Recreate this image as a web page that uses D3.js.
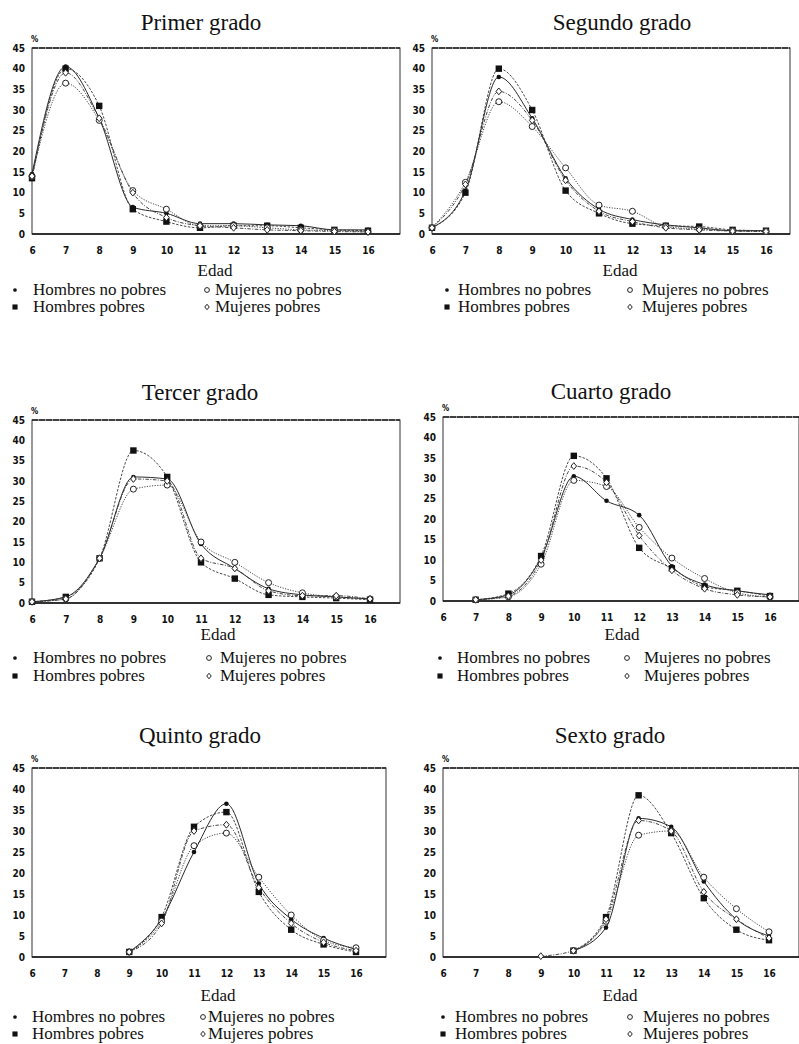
<!DOCTYPE html>
<html>
<head>
<meta charset="utf-8">
<script src="https://cdn.jsdelivr.net/npm/d3@7"></script>
<style>
  body { margin: 0; background: #fff; }
  svg { display: block; }
</style>
</head>
<body>
<div id="chart"></div>
<script>
// ages on the x axis
const ages = [6, 7, 8, 9, 10, 11, 12, 13, 14, 15, 16];
const xTicks = [6, 7, 8, 9, 10, 11, 12, 13, 14, 15, 16];
const yTicks = [0, 5, 10, 15, 20, 25, 30, 35, 40, 45];
const seriesNames = ["Hombres no pobres", "Hombres pobres", "Mujeres no pobres", "Mujeres pobres"];
const gradeNames = ["Primer grado", "Segundo grado", "Tercer grado", "Cuarto grado", "Quinto grado", "Sexto grado"];

// % per age, order: hombres no pobres, hombres pobres, mujeres no pobres, mujeres pobres
const primerGrado = [
    [14.5, 40.5, 28, 6.5, 5, 2.5, 2.5, 2.2, 2, 1, 1],
    [13.5, 40, 31, 6, 3, 1.5, 2, 2, 1.5, 1, 0.8],
    [14, 36.5, 27.5, 10.5, 6, 2, 2, 1.5, 1, 0.8, 0.5],
    [14, 39, 28, 10, 4, 2, 1.5, 1, 0.8, 0.6, 0.5]
];
const segundoGrado = [
    [1.5, 10.5, 38, 28, 13.5, 6, 3.5, 2.2, 1.5, 0.8, 0.8],
    [1.5, 10, 40, 30, 10.5, 5, 2.5, 2, 1.8, 1, 0.8],
    [1.5, 12.5, 32, 26, 16, 7, 5.5, 1.8, 1.2, 0.8, 0.6],
    [1.5, 12, 34.5, 27.5, 13, 5.5, 3, 1.5, 1, 0.7, 0.6]
];
const tercerGrado = [
    [0.3, 1.5, 11, 31, 30.5, 14.5, 8.5, 3.5, 2, 1.5, 1],
    [0.3, 1.5, 11, 37.5, 31, 10, 6, 2, 1.5, 1.2, 0.8],
    [0.3, 1, 11, 28, 29, 15, 10, 5, 2.5, 1.5, 1],
    [0.3, 1, 11, 30.5, 30, 11, 8.5, 3, 1.8, 1.8, 1]
];
const cuartoGrado = [
    [null, 0.3, 1.5, 10.5, 30.5, 24.5, 21, 8.5, 4, 2.5, 1.5],
    [null, 0.3, 1.8, 11, 35.5, 30, 13, 8, 3.5, 2.5, 1.2],
    [null, 0.3, 1, 9, 29.5, 28, 18, 10.5, 5.5, 2, 1],
    [null, 0.3, 1.2, 10, 33, 29, 16, 7.5, 3, 1.5, 1]
];
const quintoGrado = [
    [null, null, null, 1.2, 9, 25, 36.5, 17.5, 9, 4.5, 1.8],
    [null, null, null, 1.2, 9.5, 31, 34.5, 15.5, 6.5, 3, 1.2],
    [null, null, null, 1.2, 8.5, 26.5, 29.5, 19, 10, 4, 2.2],
    [null, null, null, 1.2, 8, 30, 31.5, 16.5, 8, 3.5, 1.5]
];
const sextoGrado = [
    [null, null, null, null, 1.5, 7, 33, 31, 18, 9, 5],
    [null, null, null, null, 1.5, 9.5, 38.5, 29.5, 14, 6.5, 4],
    [null, null, null, null, 1.5, 8.5, 29, 30, 19, 11.5, 6],
    [null, null, null, 0.2, 1.5, 9, 32.5, 30, 15.5, 9, 4.5]
];
const gradeData = [primerGrado, segundoGrado, tercerGrado, cuartoGrado, quintoGrado, sextoGrado];

// page layout of each panel
const layout = [
    {left: 32, x16: 368, right: 400, top: 48, bottom: 234, titleX: 201, titleY: 30, edadX: 215, edadY: 276, legY: [295, 312], mark: [15, 207], text: [33, 215]},
    {left: 432, x16: 766, right: 790, top: 48, bottom: 234, titleX: 622, titleY: 30, edadX: 620, edadY: 276, legY: [295, 312], mark: [447, 630], text: [458, 642]},
    {left: 32, x16: 370, right: 400, top: 420, bottom: 603, titleX: 200, titleY: 400, edadX: 218, edadY: 640, legY: [663, 681], mark: [15, 209], text: [33, 220]},
    {left: 443, x16: 770, right: 799, top: 417, bottom: 601, titleX: 611, titleY: 399, edadX: 622, edadY: 640, legY: [663, 681], mark: [440, 627], text: [457, 644]},
    {left: 32, x16: 356, right: 386, top: 768, bottom: 957, titleX: 200, titleY: 743, edadX: 218, edadY: 1001, legY: [1022, 1039], mark: [15, 203], text: [32, 208]},
    {left: 443, x16: 769, right: 799, top: 768, bottom: 957, titleX: 610, titleY: 743, edadX: 620, edadY: 1001, legY: [1022, 1039], mark: [443, 630], text: [455, 643]}
];

const W = 799, H = 1044;
const serif = "'Liberation Serif', 'Times New Roman', Times, 'DejaVu Serif', serif";
const narrow = "'Liberation Sans Narrow', 'DejaVu Sans Condensed', 'Arial Narrow', sans-serif";
const dashes = [null, "2.5,1.5", "1.2,1.4", "3.5,1.5,1,1.5"];

const svg = d3.select("#chart").append("svg")
    .attr("width", W)
    .attr("height", H);

function drawMarker(g, kind, x, y, s) {
    if (kind === 0) {
        g.append("circle").attr("cx", x).attr("cy", y).attr("r", 2.3 * s).attr("fill", "#111");
    } else if (kind === 1) {
        g.append("rect").attr("x", x - 3.2 * s).attr("y", y - 3.2 * s)
            .attr("width", 6.4 * s).attr("height", 6.4 * s).attr("fill", "#111");
    } else if (kind === 2) {
        g.append("circle").attr("cx", x).attr("cy", y).attr("r", 3 * s)
            .attr("fill", "#fff").attr("stroke", "#222").attr("stroke-width", 1);
    } else {
        g.append("path")
            .attr("d", `M${x},${y - 3.4 * s}L${x + 2.8 * s},${y}L${x},${y + 3.4 * s}L${x - 2.8 * s},${y}Z`)
            .attr("fill", "#fff").attr("stroke", "#222").attr("stroke-width", 1);
    }
}

gradeData.forEach((grade, gi) => {
    let L = layout[gi];
    let g = svg.append("g");

    let x = d3.scaleLinear().domain([6, 16]).range([L.left, L.x16]);
    let y = d3.scaleLinear().domain([0, 45]).range([L.bottom, L.top]);

    g.append("text")
        .attr("x", L.titleX).attr("y", L.titleY)
        .attr("text-anchor", "middle")
        .style("font-family", serif)
        .style("font-size", "23px")
        .style("fill", "#111")
        .text(gradeNames[gi]);

    g.append("text")
        .attr("x", L.left - 1).attr("y", L.top - 6)
        .style("font-family", narrow)
        .style("font-weight", "bold")
        .style("font-size", "8px")
        .text("%");

    // frame
    g.append("rect")
        .attr("x", L.left).attr("y", L.top)
        .attr("width", L.right - L.left).attr("height", L.bottom - L.top)
        .attr("fill", "none").attr("stroke", "#333").attr("stroke-width", 1);
    g.append("line")
        .attr("x1", L.left).attr("x2", L.right).attr("y1", L.top).attr("y2", L.top)
        .attr("stroke", "#222").attr("stroke-width", 1.6).attr("stroke-dasharray", "6,1");
    g.append("line")
        .attr("x1", L.left).attr("x2", L.right).attr("y1", L.bottom).attr("y2", L.bottom)
        .attr("stroke", "#111").attr("stroke-width", 1.6);

    // axes (labels only)
    let xAxis = g.append("g")
        .attr("transform", `translate(0,${L.bottom})`)
        .call(d3.axisBottom(x).tickValues(xTicks).tickSize(0).tickPadding(13).tickFormat(d3.format("d")));
    xAxis.select(".domain").remove();

    let yAxis = g.append("g")
        .attr("transform", `translate(${L.left},0)`)
        .call(d3.axisLeft(y).tickValues(yTicks).tickSize(0).tickPadding(7).tickFormat(d3.format("d")));
    yAxis.select(".domain").remove();

    g.selectAll(".tick text")
        .style("font-family", narrow)
        .style("font-stretch", "condensed")
        .style("font-weight", "bold")
        .style("font-size", "10px")
        .style("fill", "#111");

    g.append("text")
        .attr("x", L.edadX).attr("y", L.edadY)
        .attr("text-anchor", "middle")
        .style("font-family", serif)
        .style("font-size", "17px")
        .style("fill", "#111")
        .text("Edad");

    // clip lines to the plot area
    let clipId = "clip" + gi;
    g.append("clipPath").attr("id", clipId)
        .append("rect")
        .attr("x", L.left).attr("y", L.top)
        .attr("width", L.right - L.left).attr("height", L.bottom - L.top);

    let line = d3.line()
        .x(d => x(d.age))
        .y(d => y(d.v))
        .curve(d3.curveMonotoneX);

    grade.forEach((values, si) => {
        let pts = ages.map((a, i) => ({age: a, v: values[i]})).filter(d => d.v !== null);
        g.append("path")
            .attr("clip-path", `url(#${clipId})`)
            .attr("d", line(pts))
            .attr("fill", "none")
            .attr("stroke", si === 0 ? "#111" : "#333")
            .attr("stroke-width", 0.9)
            .attr("stroke-dasharray", dashes[si]);
    });

    grade.forEach((values, si) => {
        let mg = g.append("g");
        ages.forEach((a, i) => {
            if (values[i] !== null) drawMarker(mg, si, x(a), y(values[i]), 1);
        });
    });

    // legend
    let leg = g.append("g");
    seriesNames.forEach((name, si) => {
        let col = si < 2 ? 0 : 1;
        let row = si % 2;
        drawMarker(leg, si, L.mark[col], L.legY[row] - 5, 0.8);
        leg.append("text")
            .attr("x", L.text[col]).attr("y", L.legY[row])
            .style("font-family", serif)
            .style("font-size", "17px")
            .style("fill", "#111")
            .text(name);
    });
});
</script>
</body>
</html>
